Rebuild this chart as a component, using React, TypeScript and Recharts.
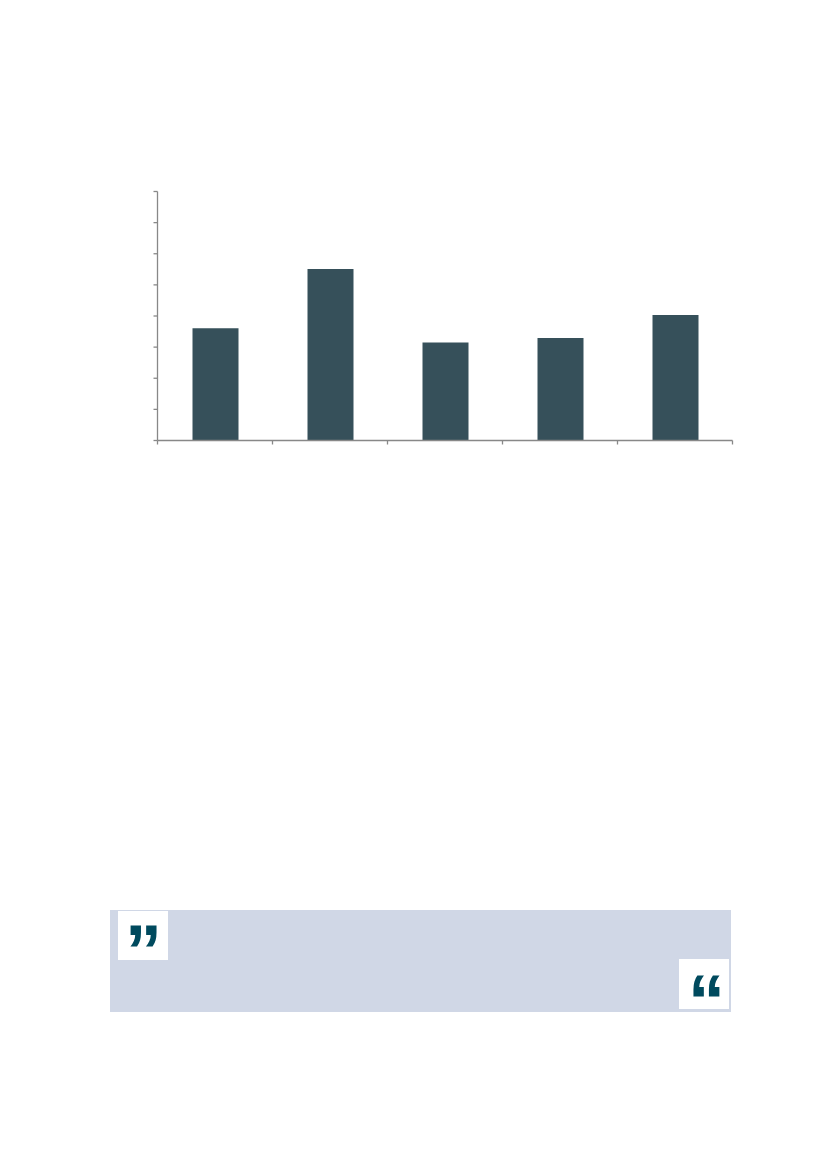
import { BarChart, Bar, XAxis, YAxis } from "recharts";

const categories = ["A", "B", "C", "D", "E"];
const values = [3.61, 5.51, 3.15, 3.29, 4.03];
const yTicks = [0, 1, 2, 3, 4, 5, 6, 7, 8];
const bandEdges = [0, 1, 2, 3, 4, 5];

const data = categories.map((name, i) => ({ name, value: values[i] }));

const AXIS = "#888888";
const BAR = "#36505a";
const QUOTE = "#004a5e";

// tick marks only, no labels
const noLabel = () => <g />;

const quoteStyle = {
  position: "absolute" as const,
  fontFamily: "Liberation Sans",
  fontWeight: 700,
  fontSize: 74,
  lineHeight: 1,
  color: QUOTE,
};

function QuoteBox() {
  return (
    <div
      style={{
        position: "absolute",
        left: 110,
        top: 910,
        width: 621,
        height: 102,
        background: "#d0d7e6",
      }}
    >
      <div
        style={{
          position: "absolute",
          left: 8,
          top: 1,
          width: 50,
          height: 49,
          background: "#fff",
        }}
      >
        <span style={{ ...quoteStyle, left: 7, top: 4 }}>{"\u201D"}</span>
      </div>
      <div
        style={{
          position: "absolute",
          left: 569,
          top: 49,
          width: 50,
          height: 50,
          background: "#fff",
        }}
      >
        <span style={{ ...quoteStyle, left: 9, top: 5 }}>{"\u201C"}</span>
      </div>
    </div>
  );
}

export default function App() {
  return (
    <div
      style={{
        position: "absolute",
        left: 0,
        top: 0,
        width: 827,
        height: 1168,
        background: "#fff",
      }}
    >
      <div style={{ position: "absolute", left: 0, top: 0 }}>
        <BarChart
          width={827}
          height={470}
          data={data}
          margin={{ top: 191.5, right: 94.5, bottom: 19.5, left: 137.5 }}
        >
          <XAxis dataKey="name" xAxisId="cat" orientation="top" hide />
          <XAxis
            xAxisId="edges"
            type="number"
            dataKey="value"
            domain={[0, 5]}
            ticks={bandEdges}
            allowDataOverflow
            height={10}
            tick={noLabel}
            tickSize={4}
            axisLine={{ stroke: AXIS, strokeWidth: 1.3 }}
            tickLine={{ stroke: AXIS, strokeWidth: 1.3 }}
          />
          <YAxis
            width={20}
            domain={[0, 8]}
            ticks={yTicks}
            tick={noLabel}
            tickSize={4}
            axisLine={{ stroke: AXIS, strokeWidth: 1.3 }}
            tickLine={{ stroke: AXIS, strokeWidth: 1.3 }}
          />
          <Bar
            dataKey="value"
            xAxisId="cat"
            fill={BAR}
            barSize={46}
            isAnimationActive={false}
          />
        </BarChart>
      </div>
      <QuoteBox />
    </div>
  );
}
